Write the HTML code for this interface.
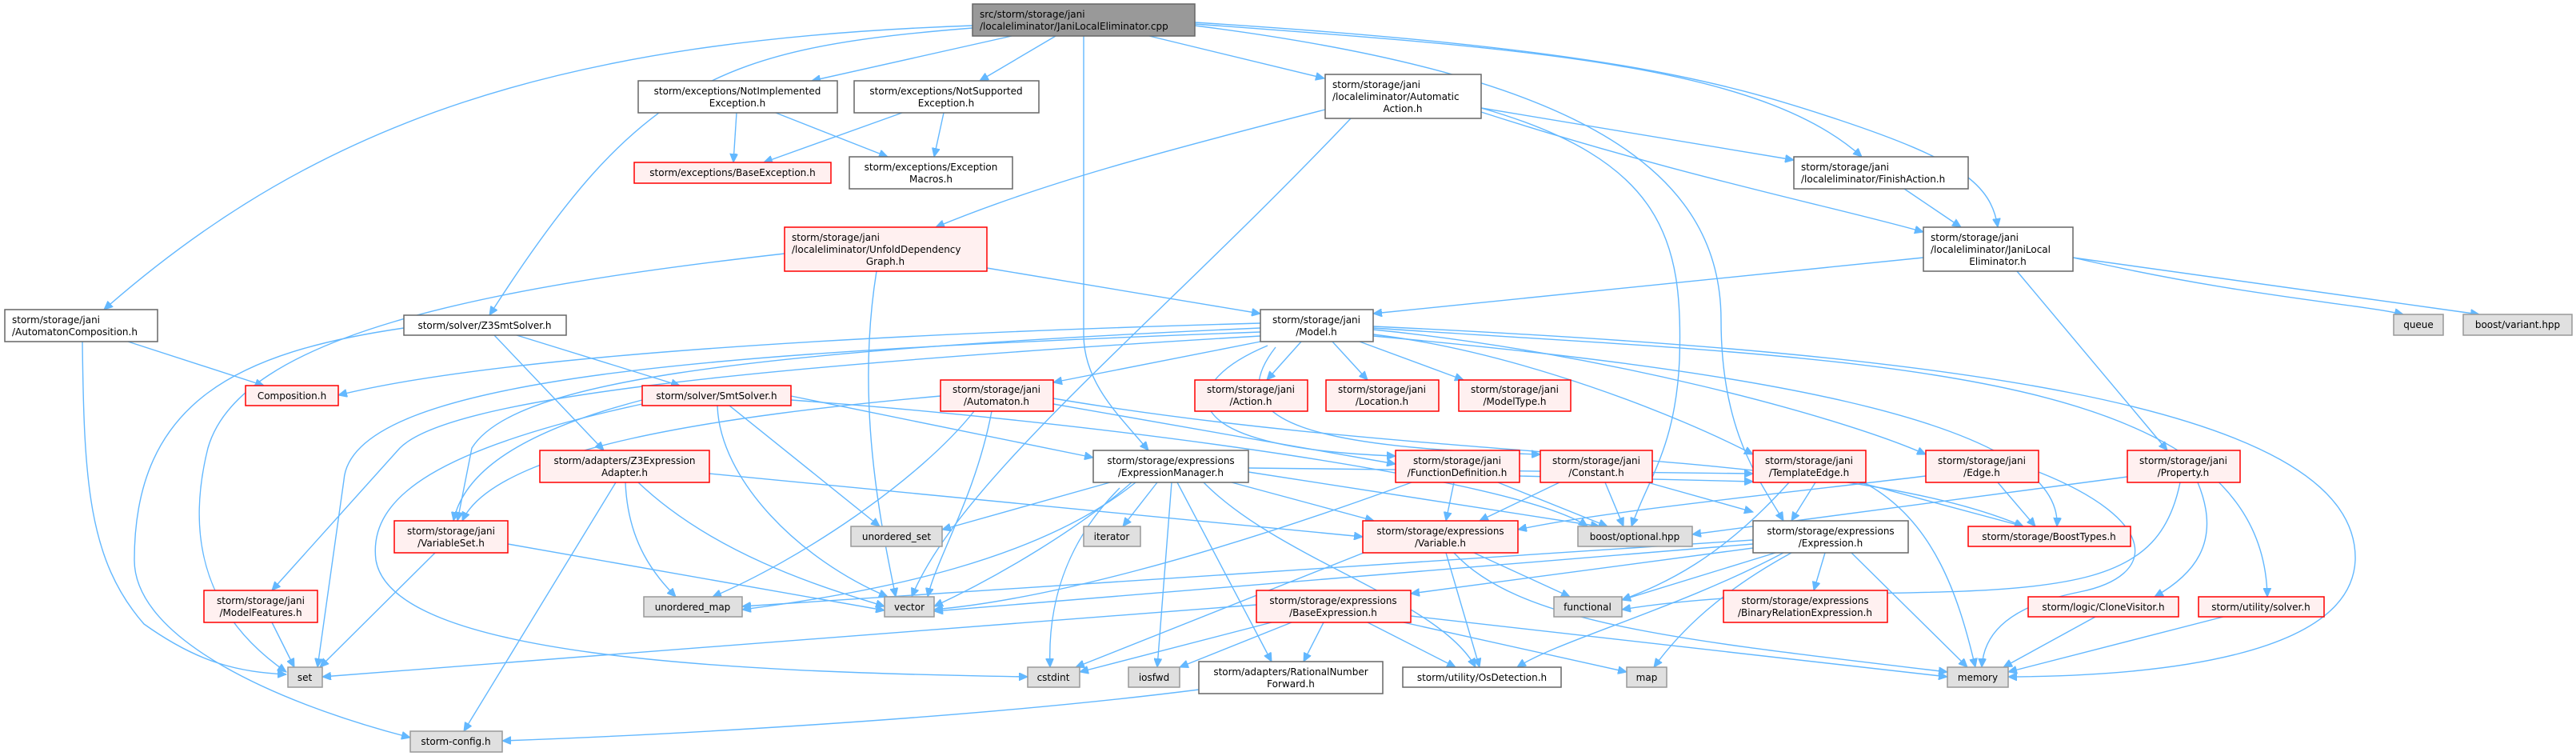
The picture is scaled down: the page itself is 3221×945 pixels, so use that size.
<!DOCTYPE html>
<html><head><meta charset="utf-8"><style>
html,body{margin:0;padding:0;background:#fff;}
svg{display:block;}
text{font-family:"DejaVu Sans","Liberation Sans",sans-serif;font-size:12px;fill:#000;}
.e{fill:none;stroke:#63b8ff;stroke-width:1.4;marker-end:url(#a);}
.w{fill:#fff;stroke:#666;stroke-width:1.5;}
.g{fill:#e0e0e0;stroke:#999;stroke-width:1.5;}
.r{fill:#fff0f0;stroke:#f00;stroke-width:1.5;}
.m{fill:#999;stroke:#666;stroke-width:1.5;}
</style></head><body>
<svg width="3221" height="945" viewBox="0 0 3221 945" xmlns="http://www.w3.org/2000/svg">
<defs><marker id="a" markerWidth="12" markerHeight="10" refX="11" refY="5" orient="auto" markerUnits="userSpaceOnUse"><path d="M0,0 L11,5 L0,10 z" fill="#63b8ff" stroke="#63b8ff"/></marker></defs>
<g>
<!-- main -->
<path class="e" d="M1216,32 C700,50 400,150 130,387"/>
<path class="e" d="M1216,35 C900,60 800,100 612,394"/>
<path class="e" d="M1265,45 L1015,101"/>
<path class="e" d="M1320,45 L1225,101"/>
<path class="e" d="M1355,45 L1355,420 C1356,480 1400,520 1436,563"/>
<path class="e" d="M1437,45 L1656,98"/>
<path class="e" d="M1494,30 C1900,60 2200,80 2328,196"/>
<path class="e" d="M1494,28 C2000,60 2150,100 2300,150 C2450,200 2490,230 2498,284"/>
<path class="e" d="M1494,32 C1950,90 2152,200 2152,400 C2152,540 2200,600 2230,651"/>
<!-- AutomaticAction -->
<path class="e" d="M1657,137 C1450,190 1300,230 1170,284"/>
<path class="e" d="M1689,148 C1450,400 1200,600 1140,746"/>
<path class="e" d="M1852,135 L2243,200"/>
<path class="e" d="M1852,140 C2100,220 2300,260 2405,290"/>
<path class="e" d="M1852,135 C2080,200 2105,300 2100,450 C2095,560 2060,600 2040,658"/>
<!-- exceptions -->
<path class="e" d="M921,141 L917,203"/>
<path class="e" d="M970,141 L1110,196"/>
<path class="e" d="M1128,141 L955,203"/>
<path class="e" d="M1180,141 L1168,196"/>
<!-- UDG -->
<path class="e" d="M1234,335 L1576,392"/>
<path class="e" d="M981,317 C600,360 300,420 260,560 C220,720 300,800 358,840"/>
<path class="e" d="M1096,339 C1070,500 1100,650 1120,746"/>
<!-- JLE.h -->
<path class="e" d="M2405,322 L1717,392"/>
<path class="e" d="M2592,322 C2800,370 2950,380 3005,393"/>
<path class="e" d="M2592,322 L3100,393"/>
<path class="e" d="M2522,339 L2710,563"/>
<path class="e" d="M2381,236 L2452,284"/>
<!-- AutomatonComposition -->
<path class="e" d="M160,427 L330,482"/>
<path class="e" d="M103,427 C105,600 110,700 180,780 C250,830 300,840 358,843"/>
<!-- Z3SmtSolver -->
<path class="e" d="M505,410 C300,440 168,500 168,700 C168,800 350,880 513,922"/>
<path class="e" d="M646,419 L850,482"/>
<path class="e" d="M618,419 L755,563"/>
<!-- Model.h -->
<path class="e" d="M1576,404 C1000,420 600,450 423,494"/>
<path class="e" d="M1576,427 L1317,478"/>
<path class="e" d="M1627,427 L1584,475"/>
<path class="e" d="M1666,427 L1710,475"/>
<path class="e" d="M1700,427 L1830,475"/>
<path class="e" d="M1585,432 C1470,480 1460,560 1745,570"/>
<path class="e" d="M1595,434 C1520,530 1650,560 1926,568"/>
<path class="e" d="M1576,410 C900,440 640,480 590,560 L572,651"/>
<path class="e" d="M1576,415 C900,440 440,470 430,600 L397,834"/>
<path class="e" d="M1576,420 C900,460 560,500 500,560 L340,738"/>
<path class="e" d="M1717,418 C1900,440 2100,520 2192,568"/>
<path class="e" d="M1717,412 C2000,440 2300,520 2408,568"/>
<path class="e" d="M1717,420 C2150,460 2580,520 2572,658"/>
<path class="e" d="M1717,410 C2300,450 2830,450 2835,746"/>
<path class="e" d="M1717,408 C2400,440 2950,500 2945,700 C2940,820 2700,845 2511,846"/>
<!-- Automaton.h -->
<path class="e" d="M1240,514 C1220,620 1170,700 1160,746"/>
<path class="e" d="M1218,514 C1150,600 1000,700 891,746"/>
<path class="e" d="M1176,495 C900,520 620,560 578,651"/>
<path class="e" d="M1317,505 L1745,580"/>
<path class="e" d="M1317,498 C1800,580 2300,560 2530,658"/>
<!-- SmtSolver -->
<path class="e" d="M989,495 L1367,572"/>
<path class="e" d="M803,500 C650,540 580,590 567,651"/>
<path class="e" d="M803,505 C550,560 460,620 470,700 C490,820 900,840 1285,846"/>
<path class="e" d="M912,507 L1100,658"/>
<path class="e" d="M897,507 C900,600 1000,700 1110,746"/>
<path class="e" d="M989,500 C1400,530 1900,600 1985,658"/>
<!-- Z3ExpressionAdapter -->
<path class="e" d="M770,603 L580,914"/>
<path class="e" d="M782,603 C785,680 820,720 845,746"/>
<path class="e" d="M798,603 C900,700 1050,740 1106,758"/>
<path class="e" d="M887,592 L1704,671"/>
<!-- VariableSet / ModelFeatures -->
<path class="e" d="M544,691 L400,834"/>
<path class="e" d="M635,680 L1106,763"/>
<path class="e" d="M340,778 L368,834"/>
<!-- ExpressionManager -->
<path class="e" d="M1388,603 L1178,662"/>
<path class="e" d="M1447,603 L1404,658"/>
<path class="e" d="M1415,603 C1350,660 1250,720 1168,758"/>
<path class="e" d="M1420,603 C1300,700 1100,740 928,762"/>
<path class="e" d="M1400,610 C1330,680 1310,760 1313,834"/>
<path class="e" d="M1465,603 L1447,834"/>
<path class="e" d="M1472,603 L1590,827"/>
<path class="e" d="M1505,603 C1600,700 1800,750 1845,834"/>
<path class="e" d="M1540,603 L1718,651"/>
<path class="e" d="M1561,590 L2000,658"/>
<path class="e" d="M1561,585 L2192,592"/>
<!-- FunctionDefinition -->
<path class="e" d="M1818,603 L1808,651"/>
<path class="e" d="M1765,603 C1500,700 1300,750 1168,762"/>
<path class="e" d="M1873,603 L2010,658"/>
<path class="e" d="M1900,595 L2192,602"/>
<!-- Constant -->
<path class="e" d="M1950,603 L1850,651"/>
<path class="e" d="M2007,603 L2030,658"/>
<path class="e" d="M2060,603 L2192,640"/>
<!-- TemplateEdge -->
<path class="e" d="M2270,603 L2240,651"/>
<path class="e" d="M2325,603 L2530,658"/>
<path class="e" d="M2330,603 C2420,650 2450,750 2470,834"/>
<path class="e" d="M2237,603 C2150,700 2080,730 2028,750"/>
<!-- Edge -->
<path class="e" d="M2498,603 L2545,658"/>
<path class="e" d="M2408,595 C2200,620 2000,640 1898,662"/>
<path class="e" d="M2549,590 C2700,650 2700,720 2600,740 C2500,760 2480,800 2478,834"/>
<!-- Property -->
<path class="e" d="M2660,596 L2116,668"/>
<path class="e" d="M2748,603 C2780,680 2740,720 2694,746"/>
<path class="e" d="M2726,603 C2700,730 2600,740 2300,742 C2150,745 2070,755 2028,762"/>
<!-- Variable.h -->
<path class="e" d="M1705,691 L1345,834"/>
<path class="e" d="M1808,691 L1850,834"/>
<path class="e" d="M1843,691 L1963,746"/>
<path class="e" d="M1818,691 C1900,780 2100,800 2435,840"/>
<!-- Expression.h -->
<path class="e" d="M2192,680 L1168,764"/>
<path class="e" d="M2192,685 L1764,742"/>
<path class="e" d="M2220,691 L2028,750"/>
<path class="e" d="M2230,691 C2100,760 1950,800 1897,834"/>
<path class="e" d="M2240,691 C2150,740 2100,790 2068,834"/>
<path class="e" d="M2282,691 L2268,738"/>
<path class="e" d="M2315,691 L2460,834"/>
<path class="e" d="M2192,675 L928,758"/>
<!-- BaseExpression -->
<path class="e" d="M1571,756 L403,846"/>
<path class="e" d="M1590,778 L1350,840"/>
<path class="e" d="M1615,778 L1475,834"/>
<path class="e" d="M1655,778 L1630,827"/>
<path class="e" d="M1710,778 L1820,834"/>
<path class="e" d="M1755,778 L2034,840"/>
<path class="e" d="M1764,770 L2435,846"/>
<!-- misc -->
<path class="e" d="M1499,862 C1200,900 800,920 628,926"/>
<path class="e" d="M2620,771 L2505,834"/>
<path class="e" d="M2780,771 L2511,840"/>
</g>
<g>
<rect class="m" x="1216" y="5" width="278" height="40"/>
<text x="1225" y="22">src/storm/storage/jani</text><text x="1225" y="37">/localeliminator/JaniLocalEliminator.cpp</text>

<rect class="w" x="798" y="101" width="249" height="40"/>
<text x="922" y="118" text-anchor="middle">storm/exceptions/NotImplemented</text><text x="922" y="133" text-anchor="middle">Exception.h</text>
<rect class="w" x="1068" y="101" width="231" height="40"/>
<text x="1183" y="118" text-anchor="middle">storm/exceptions/NotSupported</text><text x="1183" y="133" text-anchor="middle">Exception.h</text>
<rect class="r" x="793" y="203" width="246" height="26"/>
<text x="916" y="220" text-anchor="middle">storm/exceptions/BaseException.h</text>
<rect class="w" x="1062" y="196" width="204" height="40"/>
<text x="1164" y="213" text-anchor="middle">storm/exceptions/Exception</text><text x="1164" y="228" text-anchor="middle">Macros.h</text>
<rect class="w" x="1657" y="93" width="195" height="55"/>
<text x="1666" y="110">storm/storage/jani</text><text x="1666" y="125">/localeliminator/Automatic</text><text x="1754" y="140" text-anchor="middle">Action.h</text>
<rect class="w" x="2243" y="196" width="218" height="40"/>
<text x="2252" y="213">storm/storage/jani</text><text x="2252" y="228">/localeliminator/FinishAction.h</text>
<rect class="w" x="2405" y="284" width="187" height="55"/>
<text x="2414" y="301">storm/storage/jani</text><text x="2414" y="316">/localeliminator/JaniLocal</text><text x="2498" y="331" text-anchor="middle">Eliminator.h</text>
<rect class="g" x="2993" y="393" width="62" height="26"/><text x="3024" y="410" text-anchor="middle">queue</text>
<rect class="g" x="3080" y="393" width="136" height="26"/><text x="3148" y="410" text-anchor="middle">boost/variant.hpp</text>

<rect class="r" x="981" y="284" width="253" height="55"/>
<text x="990" y="301">storm/storage/jani</text><text x="990" y="316">/localeliminator/UnfoldDependency</text><text x="1107" y="331" text-anchor="middle">Graph.h</text>
<rect class="w" x="6" y="387" width="191" height="40"/>
<text x="15" y="404">storm/storage/jani</text><text x="15" y="419">/AutomatonComposition.h</text>
<rect class="w" x="505" y="394" width="203" height="25"/><text x="606" y="411" text-anchor="middle">storm/solver/Z3SmtSolver.h</text>
<rect class="w" x="1576" y="387" width="141" height="40"/>
<text x="1646" y="404" text-anchor="middle">storm/storage/jani</text><text x="1646" y="419" text-anchor="middle">/Model.h</text>

<rect class="r" x="307" y="482" width="116" height="25"/><text x="365" y="499" text-anchor="middle">Composition.h</text>
<rect class="r" x="803" y="482" width="186" height="25"/><text x="896" y="499" text-anchor="middle">storm/solver/SmtSolver.h</text>
<rect class="r" x="1176" y="475" width="141" height="39"/>
<text x="1246" y="491" text-anchor="middle">storm/storage/jani</text><text x="1246" y="506" text-anchor="middle">/Automaton.h</text>
<rect class="r" x="1494" y="475" width="141" height="39"/>
<text x="1564" y="491" text-anchor="middle">storm/storage/jani</text><text x="1564" y="506" text-anchor="middle">/Action.h</text>
<rect class="r" x="1658" y="475" width="141" height="39"/>
<text x="1728" y="491" text-anchor="middle">storm/storage/jani</text><text x="1728" y="506" text-anchor="middle">/Location.h</text>
<rect class="r" x="1824" y="475" width="140" height="39"/>
<text x="1894" y="491" text-anchor="middle">storm/storage/jani</text><text x="1894" y="506" text-anchor="middle">/ModelType.h</text>

<rect class="r" x="675" y="563" width="212" height="40"/>
<text x="781" y="580" text-anchor="middle">storm/adapters/Z3Expression</text><text x="781" y="595" text-anchor="middle">Adapter.h</text>
<rect class="w" x="1367" y="563" width="194" height="40"/>
<text x="1464" y="580" text-anchor="middle">storm/storage/expressions</text><text x="1464" y="595" text-anchor="middle">/ExpressionManager.h</text>
<rect class="r" x="1745" y="563" width="155" height="40"/>
<text x="1822" y="580" text-anchor="middle">storm/storage/jani</text><text x="1822" y="595" text-anchor="middle">/FunctionDefinition.h</text>
<rect class="r" x="1926" y="563" width="140" height="40"/>
<text x="1996" y="580" text-anchor="middle">storm/storage/jani</text><text x="1996" y="595" text-anchor="middle">/Constant.h</text>
<rect class="r" x="2192" y="563" width="141" height="40"/>
<text x="2262" y="580" text-anchor="middle">storm/storage/jani</text><text x="2262" y="595" text-anchor="middle">/TemplateEdge.h</text>
<rect class="r" x="2408" y="563" width="141" height="40"/>
<text x="2478" y="580" text-anchor="middle">storm/storage/jani</text><text x="2478" y="595" text-anchor="middle">/Edge.h</text>
<rect class="r" x="2660" y="563" width="141" height="40"/>
<text x="2730" y="580" text-anchor="middle">storm/storage/jani</text><text x="2730" y="595" text-anchor="middle">/Property.h</text>

<rect class="r" x="493" y="651" width="142" height="40"/>
<text x="564" y="668" text-anchor="middle">storm/storage/jani</text><text x="564" y="683" text-anchor="middle">/VariableSet.h</text>
<rect class="g" x="1064" y="658" width="114" height="25"/><text x="1121" y="675" text-anchor="middle">unordered_set</text>
<rect class="g" x="1355" y="658" width="71" height="25"/><text x="1390" y="675" text-anchor="middle">iterator</text>
<rect class="r" x="1704" y="651" width="194" height="40"/>
<text x="1801" y="668" text-anchor="middle">storm/storage/expressions</text><text x="1801" y="683" text-anchor="middle">/Variable.h</text>
<rect class="g" x="1973" y="658" width="143" height="25"/><text x="2044" y="675" text-anchor="middle">boost/optional.hpp</text>
<rect class="w" x="2192" y="651" width="194" height="40"/>
<text x="2289" y="668" text-anchor="middle">storm/storage/expressions</text><text x="2289" y="683" text-anchor="middle">/Expression.h</text>
<rect class="r" x="2461" y="658" width="203" height="25"/><text x="2562" y="675" text-anchor="middle">storm/storage/BoostTypes.h</text>

<rect class="r" x="255" y="738" width="142" height="40"/>
<text x="326" y="755" text-anchor="middle">storm/storage/jani</text><text x="326" y="770" text-anchor="middle">/ModelFeatures.h</text>
<rect class="g" x="805" y="746" width="123" height="25"/><text x="866" y="763" text-anchor="middle">unordered_map</text>
<rect class="g" x="1106" y="746" width="62" height="25"/><text x="1137" y="763" text-anchor="middle">vector</text>
<rect class="r" x="1571" y="738" width="193" height="40"/>
<text x="1667" y="755" text-anchor="middle">storm/storage/expressions</text><text x="1667" y="770" text-anchor="middle">/BaseExpression.h</text>
<rect class="g" x="1943" y="746" width="85" height="25"/><text x="1985" y="763" text-anchor="middle">functional</text>
<rect class="r" x="2155" y="738" width="205" height="40"/>
<text x="2257" y="755" text-anchor="middle">storm/storage/expressions</text><text x="2257" y="770" text-anchor="middle">/BinaryRelationExpression.h</text>
<rect class="r" x="2536" y="746" width="188" height="25"/><text x="2630" y="763" text-anchor="middle">storm/logic/CloneVisitor.h</text>
<rect class="r" x="2749" y="746" width="157" height="25"/><text x="2827" y="763" text-anchor="middle">storm/utility/solver.h</text>

<rect class="g" x="360" y="834" width="43" height="25"/><text x="381" y="851" text-anchor="middle">set</text>
<rect class="g" x="1285" y="834" width="65" height="25"/><text x="1317" y="851" text-anchor="middle">cstdint</text>
<rect class="g" x="1411" y="834" width="64" height="25"/><text x="1443" y="851" text-anchor="middle">iosfwd</text>
<rect class="w" x="1499" y="827" width="230" height="40"/>
<text x="1614" y="844" text-anchor="middle">storm/adapters/RationalNumber</text><text x="1614" y="859" text-anchor="middle">Forward.h</text>
<rect class="w" x="1754" y="834" width="198" height="25"/><text x="1853" y="851" text-anchor="middle">storm/utility/OsDetection.h</text>
<rect class="g" x="2034" y="834" width="50" height="25"/><text x="2059" y="851" text-anchor="middle">map</text>
<rect class="g" x="2435" y="834" width="76" height="25"/><text x="2473" y="851" text-anchor="middle">memory</text>
<rect class="g" x="513" y="914" width="115" height="26"/><text x="570" y="931" text-anchor="middle">storm-config.h</text>
</g>
</svg>
</body></html>
